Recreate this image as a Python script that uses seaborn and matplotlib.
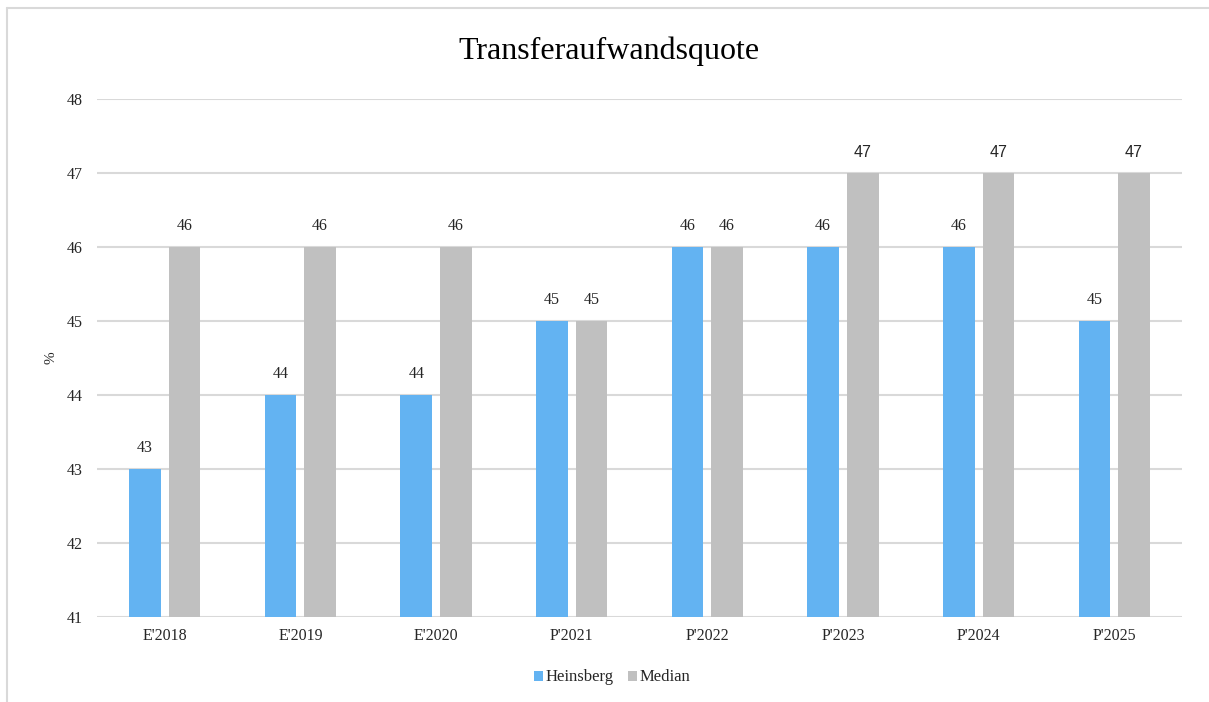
import matplotlib
matplotlib.use('Agg')
import matplotlib.pyplot as plt
import seaborn as sns
import pandas as pd

# data
categories = ["E'2018", "E'2019", "E'2020", "P'2021", "P'2022", "P'2023", "P'2024", "P'2025"]
heinsberg = [43, 44, 44, 45, 46, 46, 46, 45]
median = [46, 46, 46, 45, 46, 47, 47, 47]
series = ['Heinsberg', 'Median']
colors = ['#63B3F2', '#C0C0C0']

df = pd.DataFrame({
    'Jahr': categories * 2,
    'Wert': heinsberg + median,
    'Reihe': [series[0]] * len(categories) + [series[1]] * len(categories),
})

sns.set_style('white')
plt.rcParams['font.family'] = ['Liberation Serif', 'DejaVu Serif']

fig = plt.figure(figsize=(12.09, 7.02), dpi=100)
ax = fig.add_axes([0.0802, 0.121, 0.8975, 0.738])

sns.barplot(data=df, x='Jahr', y='Wert', hue='Reihe', palette=colors,
            width=0.583, gap=0.2, ax=ax, saturation=1, linewidth=0)

ax.set_ylim(41, 48)

for cont, vals in zip(ax.containers, [heinsberg, median]):
    for bar, v in zip(cont, vals):
        fam = ['Liberation Sans'] if v == 47 else ['Liberation Serif']
        ax.text(bar.get_x() + bar.get_width() / 2, v + 0.17, str(v),
                ha='center', va='bottom', fontsize=11.5, family=fam, color='#262626')

ax.set_yticks(range(41, 49))
ax.yaxis.grid(True, color='#d9d9d9', linewidth=1.5)
ax.set_axisbelow(True)
for s in ['top', 'right', 'left', 'bottom']:
    ax.spines[s].set_visible(False)
ax.tick_params(axis='both', length=0, labelsize=11.5, colors='#262626')
ax.tick_params(axis='y', pad=10)
ax.tick_params(axis='x', pad=8)
ax.set_xlabel('')
ax.set_ylabel('%', fontsize=11, color='#262626')
ax.yaxis.set_label_coords(-0.036, 0.5)
ax.set_xlim(-0.5, len(categories) - 0.5)

fig.suptitle('Transferaufwandsquote', fontsize=23, x=0.504, y=0.948, color='#000000')

ax.legend(loc='center', bbox_to_anchor=(0.5066, 0.035), bbox_transform=fig.transFigure,
          ncol=2, frameon=False,
          fontsize=12, handlelength=0.55, handleheight=0.55, handletextpad=0.15,
          columnspacing=0.85)

# outer border (top and left lines as in the reference)
fig.add_artist(plt.Line2D([0.006, 1.0], [0.989, 0.989], color='#d9d9d9', linewidth=1.5))
fig.add_artist(plt.Line2D([0.006, 0.006], [0.0, 0.989], color='#d9d9d9', linewidth=1.5))

fig.savefig('out.png', dpi=100)
